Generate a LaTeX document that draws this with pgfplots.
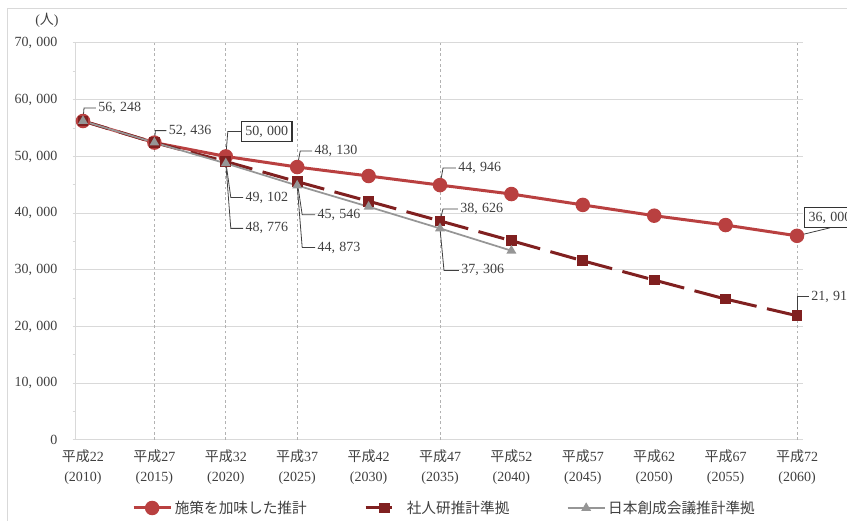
\documentclass[border=0pt]{standalone}
\usepackage{fontspec}
\setmainfont{Liberation Serif}
\newfontfamily\cjk{Noto Sans CJK JP}
\usepackage{pgfplots}
\pgfplotsset{compat=1.18}

\definecolor{cA}{RGB}{185,64,64}
\definecolor{cB}{RGB}{128,32,32}
\definecolor{cC}{RGB}{150,150,150}
\definecolor{gridc}{RGB}{217,217,217}
\definecolor{txt}{RGB}{64,64,64}

\newcommand{\nm}[2]{#1,\hspace{0.3em}#2}

\begin{document}
\begin{tikzpicture}[x=1pt,y=1pt,
  leader/.style={draw=txt, line width=0.6pt},
  lbl/.style={anchor=west, inner sep=1.5pt, text=txt, font=\fontsize{10.5}{12}\selectfont},
  boxlbl/.style={anchor=west, inner sep=3pt, draw=black!80, line width=0.8pt, fill=white, text=txt, font=\fontsize{10.5}{12}\selectfont}]
\clip (-57,-60.75) rectangle (578.25,330);
\path[use as bounding box] (-57,-60.75) rectangle (578.25,330);
\draw[gridc, line width=0.75pt] (-51,-100) rectangle (700,323.25);
\begin{axis}[
  at={(0,0)}, anchor=south west,
  scale only axis, width=545.25pt, height=297.75pt,
  xmin=-0.098, xmax=10.084, ymin=0, ymax=70000,
  clip=false,
  scaled y ticks=false,
  axis x line*=bottom, axis y line*=left,
  axis line style={gridc, line width=0.75pt},
  xtick={0,...,10},
  xticklabels={
    {{\cjk 平成}22\\(2010)},{{\cjk 平成}27\\(2015)},{{\cjk 平成}32\\(2020)},
    {{\cjk 平成}37\\(2025)},{{\cjk 平成}42\\(2030)},{{\cjk 平成}47\\(2035)},
    {{\cjk 平成}52\\(2040)},{{\cjk 平成}57\\(2045)},{{\cjk 平成}62\\(2050)},
    {{\cjk 平成}67\\(2055)},{{\cjk 平成}72\\(2060)}},
  xticklabel style={align=center, text=txt, font=\fontsize{10.5}{15}\selectfont, yshift=-1.5pt},
  xtick style={draw=none},
  ytick={0,10000,20000,30000,40000,50000,60000,70000},
  yticklabels={0,{\nm{10}{000}},{\nm{20}{000}},{\nm{30}{000}},{\nm{40}{000}},{\nm{50}{000}},{\nm{60}{000}},{\nm{70}{000}}},
  yticklabel style={text=txt, font=\fontsize{10.5}{12}\selectfont, xshift=-8pt},
  minor y tick num=1,
  tick align=outside,
  major tick length=2.5pt, minor tick length=2.5pt,
  ytick style={gridc, line width=0.75pt},
  ymajorgrids=true,
  major grid style={gridc, line width=0.75pt},
  extra x ticks={1,2,3,5,10},
  extra x tick labels={},
  extra x tick style={grid=major, major grid style={draw=black!30, dash pattern=on 2pt off 2pt, line width=0.6pt}, tick style={draw=none}},
  legend style={at={(0.5,0)}, anchor=center, yshift=-51pt, xshift=4pt, draw=none, fill=none,
    font=\cjk\fontsize{11}{13}\selectfont, text=txt, inner sep=0pt,
    /tikz/every even column/.append style={column sep=41pt}},
  legend columns=3,
  legend cell align=left,
  legend image code/.code={\draw[mark repeat=2,mark phase=2,#1] plot coordinates {(0pt,0pt) (13.9pt,0pt) (27.75pt,0pt)};},
]
\addplot[cA, line width=2.25pt, mark=*, mark size=4.3pt, mark options={solid}] coordinates {
  (0,56248) (1,52436) (2,50000) (3,48130) (4,46550) (5,44946)
  (6,43370) (7,41450) (8,39550) (9,37900) (10,36000)};
\addlegendentry{施策を加味した推計}
\addplot[cB, line width=2.25pt, dash pattern=on 20pt off 8pt, mark=square*, mark size=2.9pt, mark options={solid}] coordinates {
  (0,56248) (1,52436) (2,49102) (3,45546) (4,42100) (5,38626)
  (6,35140) (7,31600) (8,28200) (9,24850) (10,21916)};
\addlegendentry{社人研推計準拠}
\addplot[cC, line width=1.3pt, mark=triangle*, mark size=3pt, mark options={solid}] coordinates {
  (0,56248) (1,52436) (2,48776) (3,44873) (4,41130) (5,37306) (6,33380)};
\addlegendentry{日本創成会議推計準拠}

\draw[leader] (axis cs:0,56248) -- ++(0.75pt,9.75pt) -- ++(3.75pt,0) node[lbl]{\nm{56}{248}};
\draw[leader] (axis cs:1,52436) -- ++(0.75pt,9pt) -- ++(3pt,0) node[lbl]{\nm{52}{436}};
\draw[leader] (axis cs:2,50000) -- ++(1.5pt,18.75pt) -- ++(4.5pt,0) node[boxlbl]{\nm{50}{000}};
\draw[leader] (axis cs:3,48130) -- ++(2.25pt,12pt) -- ++(3.75pt,0) node[lbl]{\nm{48}{130}};
\draw[leader] (axis cs:5,44946) -- ++(2.25pt,12.75pt) -- ++(4.5pt,0) node[lbl]{\nm{44}{946}};
\draw[leader] (axis cs:2,49102) -- ++(3.75pt,-27pt) -- ++(4pt,0) node[lbl]{\nm{49}{102}};
\draw[leader] (axis cs:2,48776) -- ++(3.75pt,-48.75pt) -- ++(4pt,0) node[lbl]{\nm{48}{776}};
\draw[leader] (axis cs:3,45546) -- ++(3.75pt,-24.75pt) -- ++(4.5pt,0) node[lbl]{\nm{45}{546}};
\draw[leader] (axis cs:3,44873) -- ++(3.75pt,-46.5pt) -- ++(4.5pt,0) node[lbl]{\nm{44}{873}};
\draw[leader] (axis cs:5,38626) -- ++(2.25pt,9pt) -- ++(6pt,0) node[lbl]{\nm{38}{626}};
\draw[leader] (axis cs:5,37306) -- ++(3pt,-31.5pt) -- ++(6pt,0) node[lbl]{\nm{37}{306}};
\draw[leader] (axis cs:10,36000) -- ++(24.75pt,6pt) node[boxlbl, anchor=south]{\nm{36}{000}};
\draw[leader] (axis cs:10,21916) -- ++(0pt,14.25pt) -- ++(3.75pt,0) node[lbl]{\nm{21}{916}};

\node[text=txt, font=\fontsize{10.5}{12}\selectfont] at (rel axis cs:0,1) [xshift=-21.75pt, yshift=17.25pt] {({\cjk 人})};
\end{axis}
\end{tikzpicture}
\end{document}
